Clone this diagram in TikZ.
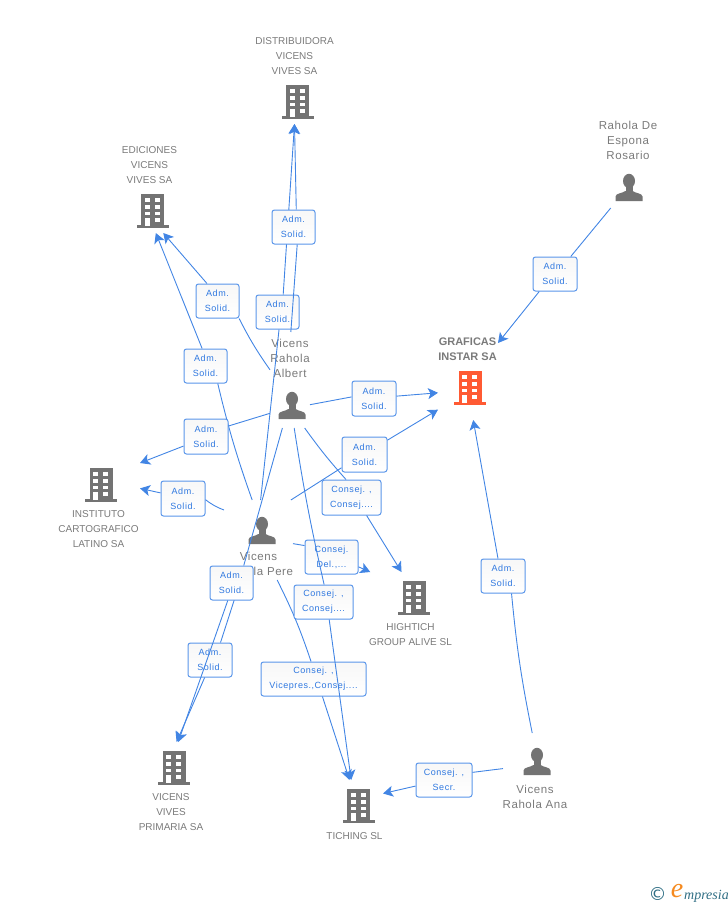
\documentclass[tikz,border=0pt]{standalone}
\usepackage{fontspec}
\setmainfont{Liberation Sans}
\newfontfamily\labfont[LetterSpace=6]{Liberation Sans}
\newfontfamily\perfont[LetterSpace=5]{Liberation Sans}
\newfontfamily\symfont{DejaVu Sans}
\newfontfamily\logofont{Liberation Serif}
\usetikzlibrary{arrows.meta}
\definecolor{linkblue}{HTML}{4285E4}
\definecolor{boxblue}{HTML}{5A96EA}
\definecolor{textblue}{HTML}{2F78E0}
\definecolor{icongray}{HTML}{737373}
\definecolor{txtgray}{HTML}{7A7A7A}
\definecolor{hotred}{HTML}{FF5A33}
\definecolor{logoteal}{HTML}{2F6E84}
\definecolor{logoorange}{HTML}{F58A1F}
\tikzset{
  x=1pt,y=-1pt,
  link/.style={draw=linkblue,line width=0.9pt},
  arr/.style={link,-{Stealth[length=10pt,width=11pt,inset=2.5pt]}},
  lab/.style={draw=boxblue,line width=1pt,rounded corners=2.5pt,top color=black!3,bottom color=white,
    inner sep=0pt,minimum height=34pt,align=center,text=textblue,
    font=\labfont\fontsize{9}{15}\selectfont},
  ent/.style={inner sep=0pt,outer sep=0pt},
  co/.style={text=txtgray,align=center,inner sep=0pt,font=\fontsize{10}{15}\selectfont},
  pe/.style={text=txtgray,align=center,inner sep=0pt,font=\perfont\fontsize{11.5}{15}\selectfont},
  pics/bldg/.style={code={
    \fill[#1] (-11.5,-34) rectangle (11.5,0);
    \fill[#1] (-16,-3) rectangle (16,0);
    \fill[white] (-8,-30) rectangle (-3,-26);
    \fill[white] (2,-30) rectangle (7,-26);
    \fill[white] (-8,-23) rectangle (-3,-19);
    \fill[white] (2,-23) rectangle (7,-19);
    \fill[white] (-8,-16) rectangle (-3,-13);
    \fill[white] (2,-16) rectangle (7,-13);
    \fill[white] (2,-10) rectangle (7,-6);
    \fill[white] (-8,-10) rectangle (-3,-2.5);
  }},
  pics/persona/.style={code={
    \fill[icongray] (0,-20) ellipse (6 and 7.2);
    \fill[icongray] (-3.5,-15) rectangle (3.5,-8);
    \fill[icongray] (-13.5,0) -- (-13.5,-4.5) .. controls (-13,-8) and (-7,-7.5) .. (-3.5,-10)
      -- (3.5,-10) .. controls (7,-7.5) and (13,-8) .. (13.5,-4.5) -- (13.5,0) -- cycle;
  }}
}
\begin{document}
\begin{tikzpicture}
\useasboundingbox (0,0) rectangle (728,905);
% entity boxes (invisible): connectors end on their borders
\node[ent,minimum width=77pt,minimum height=89pt] (dist) at (294.5,79.5) {};
\node[ent,minimum width=53pt,minimum height=90pt] (edic) at (149.5,188) {};
\node[ent,minimum width=83pt,minimum height=88pt] (inst) at (98.5,506) {};
\node[ent,minimum width=84pt,minimum height=76pt] (high) at (411,610) {};
\node[ent,minimum width=66pt,minimum height=91pt] (prim) at (171,787.5) {};
\node[ent,minimum width=56pt,minimum height=62pt] (tich) at (355,811) {};
\node[ent,minimum width=60pt,minimum height=85pt] (graf) at (468,377.5) {};
\node[ent,minimum width=40pt,minimum height=96pt] (albert) at (290,380) {};
\node[ent,minimum width=69pt,minimum height=80pt] (pere) at (258.5,540) {};
\node[ent,minimum width=60pt,minimum height=90pt] (rosa) at (628,163) {};
\node[ent,minimum width=64pt,minimum height=79pt] (ana) at (535,772.5) {};
% icons and texts
\pic at (297.5,119) {bldg=icongray};
\pic at (152.5,228) {bldg=icongray};
\pic at (101,502) {bldg=icongray};
\pic at (414,615) {bldg=icongray};
\pic at (174,785) {bldg=icongray};
\pic at (358.5,823) {bldg=icongray};
\pic at (470,405) {bldg=hotred};
\pic at (292,419) {persona};
\pic at (262,544) {persona};
\pic at (629,201) {persona};
\pic at (537,775) {persona};
\node[co] (tdist) at (294.5,56) {DISTRIBUIDORA\\VICENS\\VIVES SA};
\node[co] (tedic) at (149.5,165) {EDICIONES\\VICENS\\VIVES SA};
\node[co] (tinst) at (98.5,529) {INSTITUTO\\CARTOGRAFICO\\LATINO SA};
\node[co] (thigh) at (410.5,634.5) {HIGHTICH\\GROUP ALIVE SL};
\node[co] (tprim) at (171,812) {VICENS\\VIVES\\PRIMARIA SA};
\node[co] (ttich) at (354.5,836) {TICHING SL};
\node[text=txtgray,align=center,inner sep=0pt,font=\bfseries\fontsize{11}{15}\selectfont] (tgraf) at (467.5,349.5) {GRAFICAS\\INSTAR SA};
\node[pe] (talbert) at (290,358) {Vicens\\Rahola\\Albert};
\node[pe] (tpere) at (258.5,564) {Vicens\\Rahola Pere};
\node[pe] (trosa) at (628,140) {Rahola De\\Espona\\Rosario};
\node[pe] (tana) at (535,796.5) {Vicens\\Rahola Ana};
% connectors, back to front
\node[lab,minimum width=43pt] (l2) at (277.5,312) {Adm.\\Solid.};
\draw[link] (pere.87.9) -- (l2.-85);
\draw[arr] (l2.72) -- (dist.270);
\node[lab,minimum width=43pt] (l3) at (217.5,301) {Adm.\\Solid.};
\draw[link] (albert.153.4) to[bend left=4] (l3.-39.7);
\draw[arr] (l3.121.7) -- (edic.-73.3);
\node[lab,minimum width=43pt] (l4) at (205.5,366) {Adm.\\Solid.};
\draw[link] (pere.99.2) to[bend left=3] (l4.-55.9);
\draw[arr] (l4.101.6) -- (edic.-82);
\node[lab,minimum width=44pt,minimum height=35pt] (l5) at (206,436.5) {Adm.\\Solid.};
\draw[link] (albert.239.5) -- (l5.25.5);
\draw[arr] (l5.203.4) -- (inst.46.7);
\node[lab,minimum width=44pt,minimum height=35pt] (l6) at (183,498.5) {Adm.\\Solid.};
\draw[link] (pere.139) to[bend left=8] (l6.-3.9);
\draw[arr] (l6.166) -- (inst.23.4);
\node[lab,minimum width=44pt,minimum height=35pt] (l7) at (374,398.5) {Adm.\\Solid.};
\draw[link] (albert.-51.3) -- (l7.176);
\draw[arr] (l7.6.5) -- (graf.207.3);
\node[lab,minimum width=45pt,minimum height=35pt] (l8) at (364.5,454.5) {Adm.\\Solid.};
\draw[link] (pere.51.8) -- (l8.210);
\draw[arr] (l8.32) -- (graf.227.3);
\node[lab,minimum width=44pt] (l14) at (210,660) {Adm.\\Solid.};
\draw[link] (pere.246.4) -- (l14.59.5);
\draw[arr] (l14.253.6) -- (prim.83.7);
\node[lab,minimum width=43pt] (l13) at (231.5,583) {Adm.\\Solid.};
\draw[link] (albert.261.7) -- (l13.55.9);
\draw[arr] (l13.258.4) -- (prim.81.3);
\node[lab,minimum width=53pt] (l10) at (331.5,557) {Consej.\\Del.,...};
\draw[link] (pere.-6.6) -- (l10.157.5);
\draw[arr] (l10.-20.7) -- (high.137.9);
\node[lab,minimum width=59pt,minimum height=35pt] (l9) at (351.5,497.5) {Consej. ,\\Consej....};
\draw[link] (albert.-73.7) to[bend right=3] (l9.107.4);
\draw[arr] (l9.-50.4) -- (high.104.7);
\node[lab,minimum width=105pt] (l12) at (313.5,679) {Consej. ,\\Vicepres.,Consej....};
\draw[link] (pere.-65.2) to[bend left=4] (l12.98.4);
\draw[arr] (l12.-63.4) -- (tich.100.9);
\node[lab,minimum width=59pt] (l11) at (323.5,602) {Consej. ,\\Consej....};
\draw[link] (albert.-85.2) to[bend right=2] (l11.88);
\draw[arr] (l11.-72) -- (tich.97.4);
\node[lab,minimum width=43pt] (l1) at (293.5,227) {Adm.\\Solid.};
\draw[link] (albert.89) -- (l1.-78.4);
\draw[arr] (l1.81.6) -- (dist.270);
\node[lab,minimum width=44pt] (l15) at (555,274) {Adm.\\Solid.};
\draw[link] (rosa.249.3) -- (l15.48.6);
\draw[arr] (l15.228.6) -- (graf.49);
\node[lab,minimum width=44pt] (l16) at (503,576) {Adm.\\Solid.};
\draw[link] (ana.94.3) to[bend left=3] (l16.-64.8);
\draw[arr] (l16.106.4) -- (graf.-83.3);
\node[lab,minimum width=56pt] (l17) at (444,780) {Consej. ,\\Secr.};
\draw[link] (ana.173.8) -- (l17.15.9);
\draw[arr] (l17.192.1) -- (tich.32.7);
% logo
\node[inner sep=0pt,text=logoteal,font=\symfont\fontsize{18}{18}\selectfont] (logoc) at (657.5,894) {©};
\node[inner sep=0pt,text=logoorange,font=\logofont\itshape\fontsize{28}{28}\selectfont] (logoe) at (677,891) {e};
\node[inner sep=0pt,anchor=base west,text=logoteal,font=\logofont\itshape\fontsize{14}{14}\selectfont] (logom) at (684,899) {mpresia};
\end{tikzpicture}
\end{document}
